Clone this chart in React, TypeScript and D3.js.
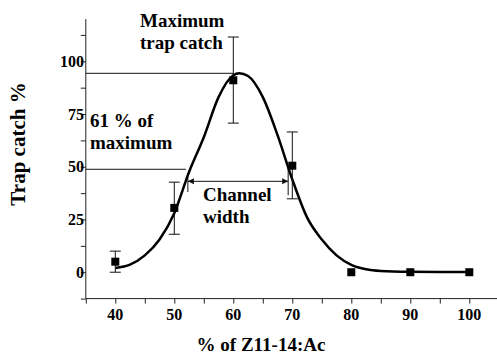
import * as d3 from "d3";
import { useEffect, useRef } from "react";

// measured points (% of Z11-14:Ac vs trap catch %)
const doses = [40, 50, 60, 70, 80, 90, 100];
const catchMean = [5, 30.5, 91, 50.5, 0, 0, 0];
const errLow = [0, 18, 70.7, 34.8, null, null, null];
const errHigh = [10, 42.7, 111.5, 66.5, null, null, null];

// fitted curve
const fitX = [40, 42.5, 45, 47.5, 50, 52.5, 55, 57.5, 60, 61, 62.5, 65, 67.5, 70, 72.5, 75, 77.5, 80, 82.5, 85, 90, 95, 100];
const fitY = [2, 3.6, 8, 15.5, 28, 47.5, 64, 83, 93.4, 94.3, 93, 83, 65, 44, 26, 15.5, 8, 3.5, 1.4, 0.6, 0.2, 0.1, 0.1];

const xTicks = [40, 50, 60, 70, 80, 90, 100];
const yTicks = [0, 25, 50, 75, 100];

const maxLevel = 94.3;
const refLevel = 48.8;
const channelLevel = 43.1;
const channelFrom = 52.3;
const channelTo = 69.3;

const App = () => {
  const svgRef = useRef<SVGSVGElement>(null);
  const width = 497;
  const height = 356;

  useEffect(() => {
    const svg = d3.select(svgRef.current);
    svg.selectAll("*").remove();

    const x = d3.scaleLinear().domain([35, 105]).range([85.8, 498.8]);
    const y = d3.scaleLinear().domain([-12.5, 120]).range([298.6, 19.1]);

    const font = "Liberation Serif, DejaVu Serif, serif";

    // x axis
    const xAxis = d3.axisBottom(x).tickValues(d3.range(35, 106, 5)).tickSize(5).tickFormat(() => "");
    const gx = svg.append("g").attr("transform", `translate(0,${y(-12.5)})`).call(xAxis);
    gx.select(".domain").attr("d", `M${x(35)},0H${x(105)}`).attr("stroke", "#222");
    gx.selectAll("line").attr("stroke", "#222");
    svg.append("g").selectAll("text").data(xTicks).join("text")
      .attr("x", d => x(d)).attr("y", 320)
      .attr("text-anchor", "middle")
      .style("font-family", font).style("font-weight", "bold").style("font-size", "16px")
      .text(d => d);

    // y axis
    const yAxis = d3.axisLeft(y).tickValues(d3.range(-12.5, 121, 12.5)).tickSize(5).tickFormat(() => "");
    const gy = svg.append("g").attr("transform", `translate(${x(35)},0)`).call(yAxis);
    gy.select(".domain").attr("d", `M0,${y(120)}V${y(-12.5)}`).attr("stroke", "#222");
    gy.selectAll("line").attr("stroke", "#222");
    svg.append("g").selectAll("text").data(yTicks).join("text")
      .attr("x", 84).attr("y", d => y(d) + 5.5)
      .attr("text-anchor", "end")
      .style("font-family", font).style("font-weight", "bold").style("font-size", "16px")
      .text(d => d);

    // axis titles
    svg.append("text").attr("x", 261).attr("y", 351).attr("text-anchor", "middle")
      .style("font-family", font).style("font-weight", "bold").style("font-size", "19px")
      .text("% of Z11-14:Ac");
    svg.append("text").attr("transform", `translate(25,144) rotate(-90)`).attr("text-anchor", "middle")
      .style("font-family", font).style("font-weight", "bold").style("font-size", "21px")
      .text("Trap catch %");

    // reference lines
    svg.append("line").attr("x1", x(35)).attr("x2", x(60)).attr("y1", y(maxLevel)).attr("y2", y(maxLevel))
      .attr("stroke", "#111").attr("stroke-width", 1);
    svg.append("line").attr("x1", x(35)).attr("x2", x(channelFrom) - 2).attr("y1", y(refLevel)).attr("y2", y(refLevel))
      .attr("stroke", "#111").attr("stroke-width", 1);

    // channel width arrow
    const cy = y(channelLevel);
    const cx1 = x(channelFrom), cx2 = x(channelTo);
    svg.append("line").attr("x1", cx1).attr("x2", cx2).attr("y1", cy).attr("y2", cy).attr("stroke", "#111");
    svg.append("line").attr("x1", cx1).attr("x2", cx1).attr("y1", y(45)).attr("y2", y(38)).attr("stroke", "#111");
    svg.append("line").attr("x1", cx2).attr("x2", cx2).attr("y1", y(49.5)).attr("y2", y(36.5)).attr("stroke", "#111");
    svg.append("path").attr("d", `M${cx1},${cy}l6,-3l0,6z`).attr("fill", "#111");
    svg.append("path").attr("d", `M${cx2},${cy}l-6,-3l0,6z`).attr("fill", "#111");

    // annotations
    const ann = [
      { t: "Maximum", ax: 140, ay: 27 },
      { t: "trap catch", ax: 140, ay: 49 },
      { t: "61 % of", ax: 90, ay: 127 },
      { t: "maximum", ax: 90, ay: 149 },
      { t: "Channel", ax: 203, ay: 201 },
      { t: "width", ax: 203, ay: 223 },
    ];
    svg.append("g").selectAll("text").data(ann).join("text")
      .attr("x", d => d.ax).attr("y", d => d.ay)
      .style("font-family", font).style("font-weight", "bold").style("font-size", "19px")
      .text(d => d.t);

    // fitted curve
    const fit = fitX.map((d, i) => [d, fitY[i]] as [number, number]);
    const line = d3.line<[number, number]>().x(d => x(d[0])).y(d => y(d[1])).curve(d3.curveMonotoneX);
    svg.append("path").attr("d", line(fit)).attr("fill", "none").attr("stroke", "#000").attr("stroke-width", 2.5);

    // error bars
    const eb = doses.map((d, i) => ({ d, lo: errLow[i], hi: errHigh[i] })).filter(e => e.lo !== null);
    const g = svg.append("g").attr("stroke", "#111").attr("stroke-width", 1);
    eb.forEach(e => {
      g.append("line").attr("x1", x(e.d)).attr("x2", x(e.d)).attr("y1", y(e.lo as number)).attr("y2", y(e.hi as number));
      g.append("line").attr("x1", x(e.d) - 5.5).attr("x2", x(e.d) + 5.5).attr("y1", y(e.lo as number)).attr("y2", y(e.lo as number));
      g.append("line").attr("x1", x(e.d) - 5.5).attr("x2", x(e.d) + 5.5).attr("y1", y(e.hi as number)).attr("y2", y(e.hi as number));
    });

    // squares
    svg.append("g").selectAll("rect").data(doses).join("rect")
      .attr("x", d => x(d) - 4).attr("y", (d, i) => y(catchMean[i]) - 4)
      .attr("width", 8).attr("height", 8).attr("fill", "#000");
  }, []);

  return (
    <svg ref={svgRef} width={width} height={height}
      style={{ position: "absolute", left: 0, top: 0, background: "#fff" }} />
  );
};

export default App;
